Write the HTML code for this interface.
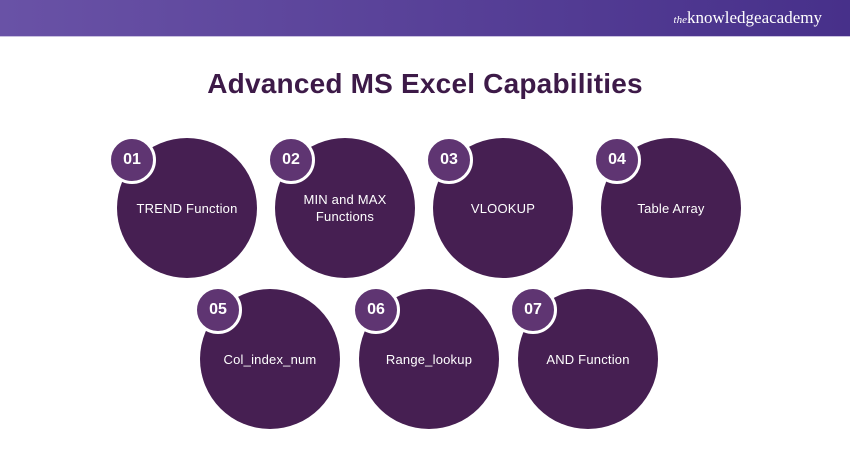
<!DOCTYPE html>
<html><head><style>
body{margin:0;width:850px;height:450px;background:#fff;position:relative;overflow:hidden;font-family:"Liberation Sans",sans-serif}
.hdr{position:absolute;left:0;top:0;width:850px;height:36px;background:linear-gradient(90deg,#6952a6,#47308a);border-bottom:1px solid #c9c0e0}
.logo{position:absolute;right:28px;top:8px;color:#fff;font-family:"Liberation Serif",serif;font-size:17px}
.logo i{font-size:11px}
h1{position:absolute;top:68px;left:0;width:850px;text-align:center;margin:0;font-size:28px;font-weight:bold;color:#3d1a48;letter-spacing:0.2px}
.c{position:absolute;width:140px;height:140px;border-radius:50%;background:#461f52;color:#fff;display:flex;align-items:center;justify-content:center;text-align:center;font-size:13px;line-height:17px;letter-spacing:0.2px}
.b{position:absolute;width:42px;height:42px;border-radius:50%;background:#5f3572;border:3px solid #fff;color:#fff;font-size:16px;font-weight:bold;display:flex;align-items:center;justify-content:center}
</style></head><body>
<div class="hdr"><div class="logo"><i>the</i>knowledgeacademy</div></div>
<h1>Advanced MS Excel Capabilities</h1>
<div class="c" style="left:117px;top:138px">TREND Function</div>
<div class="c" style="left:275px;top:138px">MIN and MAX<br>Functions</div>
<div class="c" style="left:433px;top:138px">VLOOKUP</div>
<div class="c" style="left:601px;top:138px">Table Array</div>
<div class="c" style="left:200px;top:289px">Col_index_num</div>
<div class="c" style="left:359px;top:289px">Range_lookup</div>
<div class="c" style="left:518px;top:289px">AND Function</div>
<div class="b" style="left:108px;top:136px">01</div>
<div class="b" style="left:267px;top:136px">02</div>
<div class="b" style="left:425px;top:136px">03</div>
<div class="b" style="left:593px;top:136px">04</div>
<div class="b" style="left:194px;top:286px">05</div>
<div class="b" style="left:352px;top:286px">06</div>
<div class="b" style="left:509px;top:286px">07</div>
</body></html>
